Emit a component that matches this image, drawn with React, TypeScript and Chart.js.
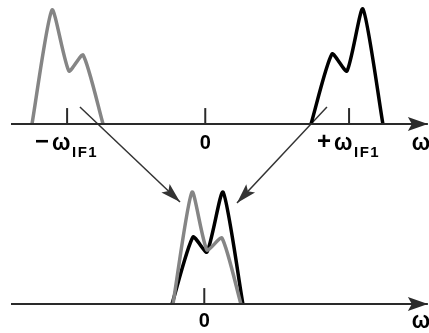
import React, { useEffect, useRef } from "react";
import { Chart, registerables } from "chart.js";

Chart.register(...registerables);

// Frequency axis in units of ω_IF1; amplitude normalised to the tallest peak.
const grayUpperX = [-1.234, -1.092, -0.972, -0.872, -0.73];
const grayUpperY = [0, 1.0, 0.465, 0.605, 0];
const blackUpperX = [0.745, 0.894, 1.0, 1.113, 1.255];
const blackUpperY = [0, 0.614, 0.465, 1.01, 0];

const grayLowerX = [-0.234, -0.099, 0.007, 0.113, 0.248];
const grayLowerY = [0, 0.982, 0.474, 0.579, 0];
const blackLowerX = [-0.241, -0.092, 0.007, 0.121, 0.262];
const blackLowerY = [0, 0.588, 0.456, 0.982, 0];

const upperTicks = [-0.985, -0.005, 1.015];
const lowerTicks = [-0.012];
const tickHeight = 0.14;

const axisStart = -1.383;
const axisEnd = 1.574;

// mixing arrows: [startX, startY, endX, endY] in upper-panel units
const leftArrow = [-0.894, 0.149, -0.184, -0.684];
const rightArrow = [0.858, 0.149, 0.22, -0.693];

const upperLabels = [
  { sign: "\u2212", w: "\u03c9", sub: "IF1", x: -0.985 },
  { sign: "", w: "", sub: "", num: "0", x: -0.005 },
  { sign: "+", w: "\u03c9", sub: "IF1", x: 1.015 },
];
const lowerLabels = [{ sign: "", w: "", sub: "", num: "0", x: -0.012 }];
const axisName = "\u03c9";

const zip = (xs: number[], ys: number[]) => xs.map((x, i) => ({ x, y: ys[i] }));

const AXIS_COLOR = "#2a2a2a";
const GRAY = "#858585";
const BLACK = "#000000";
const ARROW_COLOR = "#333333";

const FAMILY = "'Liberation Sans', Arial, sans-serif";
const SIGN_FONT = `bold 24px ${FAMILY}`;
const NUM_FONT = `bold 20px ${FAMILY}`;
const OMEGA_FONT = `bold 23px ${FAMILY}`;
const SUB_FONT = `bold 15px ${FAMILY}`;
const OMEGA_W = 18;

const overlay = {
  id: "overlay",
  afterDatasetsDraw(chart: any) {
    const ctx = chart.ctx as CanvasRenderingContext2D;
    chart.data.datasets.forEach((ds: any, i: number) => {
      if (!ds.arrowHead) return;
      const pts = chart.getDatasetMeta(i).data;
      const a = pts[pts.length - 2];
      const b = pts[pts.length - 1];
      const ang = Math.atan2(b.y - a.y, b.x - a.x);
      const [len, hw] = ds.arrowHead;
      ctx.save();
      ctx.translate(b.x, b.y);
      ctx.rotate(ang);
      ctx.beginPath();
      ctx.moveTo(0, 0);
      ctx.lineTo(-len, -hw);
      ctx.lineTo(-len * 0.8, 0);
      ctx.lineTo(-len, hw);
      ctx.closePath();
      ctx.fillStyle = ds.borderColor;
      ctx.fill();
      ctx.restore();
    });

    const xs = chart.scales.x;
    const yUp = chart.scales.yUp;
    const yLo = chart.scales.yLo;

    const drawOmega = (left: number, base: number) => {
      ctx.save();
      ctx.font = OMEGA_FONT;
      const m = ctx.measureText(axisName);
      const ink = m.actualBoundingBoxRight + m.actualBoundingBoxLeft;
      const s = OMEGA_W / ink;
      ctx.translate(left + m.actualBoundingBoxLeft * s, base);
      ctx.scale(s, 1);
      ctx.fillText(axisName, 0, 0);
      ctx.restore();
    };

    const drawLabel = (lab: any, base: number) => {
      ctx.save();
      ctx.fillStyle = "#000";
      ctx.textBaseline = "alphabetic";
      ctx.textAlign = "left";
      const cx = xs.getPixelForValue(lab.x);
      if (lab.num) {
        ctx.font = NUM_FONT;
        ctx.textAlign = "center";
        ctx.fillText(lab.num, cx, base - 1);
        ctx.restore();
        return;
      }
      ctx.font = SIGN_FONT;
      const sm = ctx.measureText(lab.sign);
      const signW = sm.actualBoundingBoxRight + sm.actualBoundingBoxLeft;
      ctx.font = SUB_FONT;
      (ctx as any).letterSpacing = "1.5px";
      const subW = ctx.measureText(lab.sub).width;
      const gap1 = 3;
      const gap2 = 2;
      const total = signW + gap1 + OMEGA_W + gap2 + subW;
      let left = cx - total / 2;
      (ctx as any).letterSpacing = "0px";
      ctx.font = SIGN_FONT;
      ctx.fillText(lab.sign, left + sm.actualBoundingBoxLeft, base - 1);
      left += signW + gap1;
      drawOmega(left, base);
      left += OMEGA_W + gap2;
      ctx.font = SUB_FONT;
      (ctx as any).letterSpacing = "1.5px";
      ctx.fillText(lab.sub, left, base + 7);
      ctx.restore();
    };
    const upBase = yUp.getPixelForValue(0) + 26;
    const loBase = yLo.getPixelForValue(0) + 24;
    upperLabels.forEach((l) => drawLabel(l, upBase));
    lowerLabels.forEach((l) => drawLabel(l, loBase));
    ctx.save();
    ctx.fillStyle = "#000";
    drawOmega(xs.getPixelForValue(axisEnd) - 16, upBase);
    drawOmega(xs.getPixelForValue(axisEnd) - 16, loBase);
    ctx.restore();
  },
};

export default function App() {
  const ref = useRef<HTMLCanvasElement | null>(null);
  useEffect(() => {
    if (!ref.current) return;
    const line = (data: any[], color: string, width: number, yAxisID: string, extra: any = {}) => ({
      type: "line",
      data,
      borderColor: color,
      backgroundColor: color,
      borderWidth: width,
      pointRadius: 0,
      fill: false,
      tension: 0,
      borderJoinStyle: "round",
      borderCapStyle: "butt",
      yAxisID,
      ...extra,
    });
    const datasets: any[] = [
      line([{ x: axisStart, y: 0 }, { x: axisEnd, y: 0 }], AXIS_COLOR, 2, "yUp", { arrowHead: [20, 7] }),
      line([{ x: axisStart, y: 0 }, { x: axisEnd, y: 0 }], AXIS_COLOR, 2, "yLo", { arrowHead: [20, 7] }),
      ...upperTicks.map((t) => line([{ x: t, y: 0 }, { x: t, y: tickHeight }], AXIS_COLOR, 2, "yUp")),
      ...lowerTicks.map((t) => line([{ x: t, y: 0 }, { x: t, y: tickHeight }], AXIS_COLOR, 2, "yLo")),
      line(zip(grayUpperX, grayUpperY), GRAY, 3.5, "yUp", { tension: 0.2 }),
      line(zip(blackUpperX, blackUpperY), BLACK, 3.5, "yUp", { tension: 0.2 }),
      line(zip(grayLowerX, grayLowerY), GRAY, 3.5, "yLo", { tension: 0.2 }),
      line(zip(blackLowerX, blackLowerY), BLACK, 3.5, "yLo", { tension: 0.2 }),
      line([{ x: leftArrow[0], y: leftArrow[1] }, { x: leftArrow[2], y: leftArrow[3] }], ARROW_COLOR, 1.5, "yUp", { arrowHead: [20, 6] }),
      line([{ x: rightArrow[0], y: rightArrow[1] }, { x: rightArrow[2], y: rightArrow[3] }], ARROW_COLOR, 1.5, "yUp", { arrowHead: [20, 6] }),
    ];
    const chart = new Chart(ref.current, {
      type: "scatter",
      data: { datasets },
      options: {
        responsive: false,
        animation: false,
        layout: { padding: 0 },
        plugins: { legend: { display: false }, tooltip: { enabled: false } },
        scales: {
          x: { type: "linear", min: -1.461, max: 1.582, display: false },
          yUp: { type: "linear", min: -1.833, max: 1.088, display: false },
          yLo: { type: "linear", min: -0.254, max: 2.667, display: false },
        },
      },
      plugins: [overlay],
    } as any);
    return () => chart.destroy();
  }, []);
  return (
    <div style={{ position: "fixed", left: 0, top: 0, width: 429, height: 333, background: "#fff" }}>
      <canvas ref={ref} width={429} height={333} style={{ display: "block" }} />
    </div>
  );
}
